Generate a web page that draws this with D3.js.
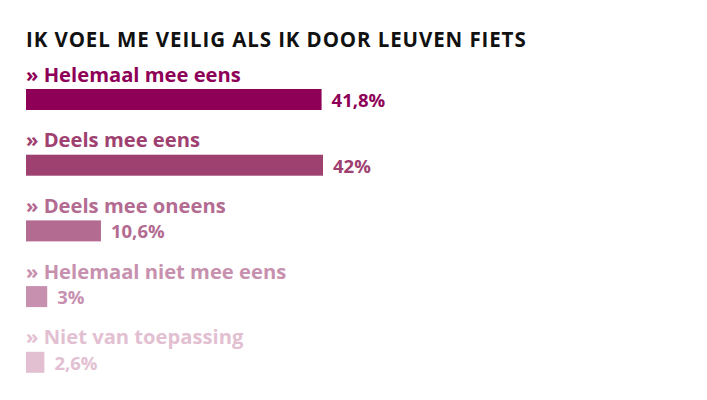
<!DOCTYPE html>
<html><head><meta charset="utf-8">
<script src="https://cdn.jsdelivr.net/npm/d3@7"></script>
<style>body{margin:0;background:#fff}svg{display:block}text{font-family:"Open Sans","Noto Sans",sans-serif;font-weight:700}</style>
</head><body><svg id="c" width="707" height="400"></svg>
<script>
const title = "IK VOEL ME VEILIG ALS IK DOOR LEUVEN FIETS";
const categories = ["Helemaal mee eens","Deels mee eens","Deels mee oneens","Helemaal niet mee eens","Niet van toepassing"];
const values = [41.8, 42, 10.6, 3, 2.6];
const valueLabels = ["41,8%","42%","10,6%","3%","2,6%"];
const colors = ["#8e0057","#9e4170","#b36b91","#c790ae","#e2c0d2"];

const svg = d3.select("#c");
const x = d3.scaleLinear().domain([0, 42]).range([26, 323]);
const y = d3.scaleBand().domain(categories).range([89, 89 + 65.7*5]).paddingInner(0);
const barH = 21;

svg.append("text").attr("x", 26).attr("y", 47).attr("font-size", 20.5).attr("fill", "#111")
  .attr("letter-spacing", 0.9).text(title);

const g = svg.selectAll("g.row").data(categories).join("g").attr("class","row");
g.append("text").attr("x", 26).attr("y", d => y(d) - 7.5).attr("font-size", 20.2)
  .attr("fill", (d,i) => colors[i]).text(d => "» " + d);
g.append("rect").attr("x", x(0)).attr("y", d => y(d)).attr("height", barH)
  .attr("width", (d,i) => x(values[i]) - x(0)).attr("fill", (d,i) => colors[i]);
g.append("text").attr("x", (d,i) => x(values[i]) + 10).attr("y", d => y(d) + 18)
  .attr("font-size", 18.5).attr("fill", (d,i) => colors[i]).text((d,i) => valueLabels[i]);
</script></body></html>
